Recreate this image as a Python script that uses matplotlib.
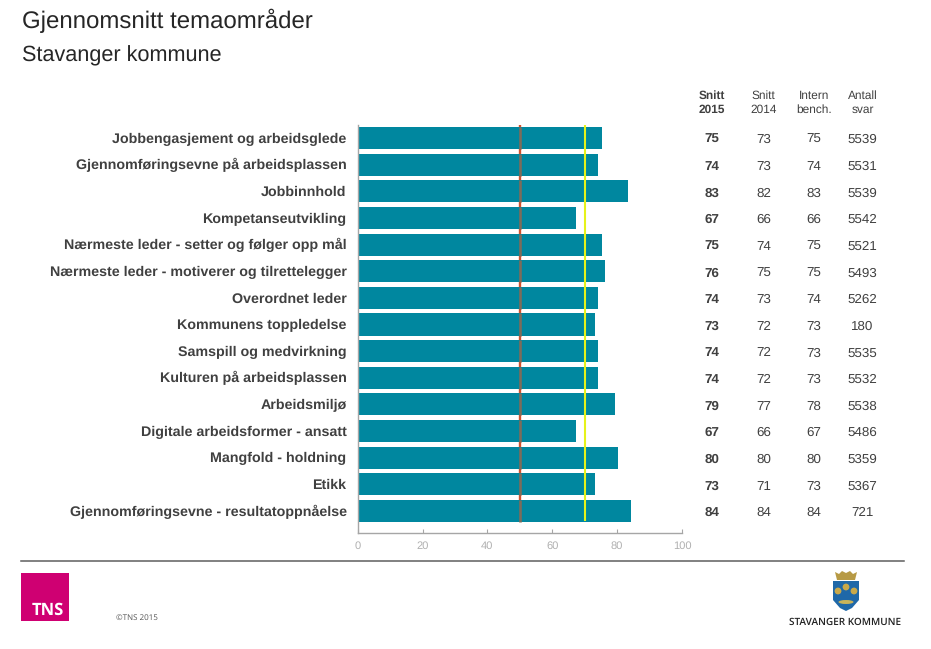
import matplotlib
matplotlib.use("Agg")
import matplotlib.pyplot as plt
from matplotlib.patches import Rectangle, Polygon, Circle, Ellipse
from matplotlib.transforms import ScaledTranslation

categories = ["Jobbengasjement og arbeidsglede", "Gjennomføringsevne på arbeidsplassen", "Jobbinnhold",
              "Kompetanseutvikling", "Nærmeste leder - setter og følger opp mål",
              "Nærmeste leder - motiverer og tilrettelegger", "Overordnet leder", "Kommunens toppledelse",
              "Samspill og medvirkning", "Kulturen på arbeidsplassen", "Arbeidsmiljø",
              "Digitale arbeidsformer - ansatt", "Mangfold - holdning", "Etikk",
              "Gjennomføringsevne - resultatoppnåelse"]
bar_values = [75.3, 74.1, 83.3, 67.3, 75.3, 76.2, 74.1, 73.1, 74.1, 74.1, 79.3, 67.3, 80.2, 73.1, 84.3]
snitt_2015 = [75, 74, 83, 67, 75, 76, 74, 73, 74, 74, 79, 67, 80, 73, 84]
snitt_2014 = [73, 73, 82, 66, 74, 75, 73, 72, 72, 72, 77, 66, 80, 71, 84]
intern_bench = [75, 74, 83, 66, 75, 75, 74, 73, 73, 73, 78, 67, 80, 73, 84]
antall_svar = [5539, 5531, 5539, 5542, 5521, 5493, 5262, 180, 5535, 5532, 5538, 5486, 5359, 5367, 721]
x_ticks = [0, 20, 40, 60, 80, 100]
ref_low = 50
ref_high = 70

W, H = 931, 649
plt.rcParams["font.family"] = ["Liberation Sans", "DejaVu Sans"]
plt.rcParams["text.hinting"] = "no_hinting"
plt.rcParams["text.hinting_factor"] = 8
fig = plt.figure(figsize=(W / 100, H / 100), dpi=100, facecolor="white")

# overlay in pixel coordinates
ov = fig.add_axes([0, 0, 1, 1])
ov.set_xlim(0, W)
ov.set_ylim(H, 0)
ov.axis("off")

# chart axes
left, right, top, bottom = 357.7, 682, 125, 533.3
ax = fig.add_axes([left / W, 1 - bottom / H, (right - left) / W, (bottom - top) / H])
ax.patch.set_alpha(0)
ax.set_xlim(0, 100)
ax.set_ylim(14.837, -0.488)
ypos = list(range(len(categories)))
ax.barh(ypos, bar_values, height=0.83, color="#00879f", zorder=2)
ax.vlines(ref_low, -0.49, 14.42, color="#d2502a", lw=1.7, zorder=1)
for y in ypos:
    ax.vlines(ref_low, y - 0.415, y + 0.415, color="#7d6c5a", lw=1.9, zorder=4)
ax.vlines(ref_high, -0.49, 14.38, color="#e6f21a", lw=1.5, zorder=5)
for s in ("top", "right"):
    ax.spines[s].set_visible(False)
for s in ("left", "bottom"):
    ax.spines[s].set_color("#a6a6a6")
    ax.spines[s].set_linewidth(1.0)
ax.set_yticks(ypos)
ax.set_yticklabels(categories, fontsize=10.3, fontweight="bold", color="#404040", va="baseline")
ax.tick_params(axis="y", length=0, pad=8)
shift = ScaledTranslation(0, -4.7 / 100, fig.dpi_scale_trans)
for lab in ax.get_yticklabels():
    lab.set_transform(lab.get_transform() + shift)
ax.set_xticks(x_ticks)
ax.tick_params(axis="x", direction="in", length=3, width=0.8, color="#a6a6a6",
               labelsize=8, labelcolor="#b0b0b0", pad=5.5)

# table columns
col_x = [712, 763.5, 814, 862.5]
headers = [("Snitt\n2015", "bold"), ("Snitt\n2014", "normal"), ("Intern\nbench.", "normal"), ("Antall\nsvar", "normal")]
columns = [snitt_2015, snitt_2014, intern_bench, antall_svar]
for cx, (h, w), col in zip(col_x, headers, columns):
    ov.text(cx, 102.5, h, ha="center", va="center", fontsize=8.6, fontweight=w,
            color="#404040", linespacing=1.3)
    for i, v in enumerate(col):
        ov.text(cx, 143.3 + i * 26.64, str(v), ha="center", va="baseline", fontsize=9.6,
                fontweight=w, color="#404040")

# titles
ov.text(22, 21, "Gjennomsnitt temaområder", fontsize=17.3, color="#262626", va="center", ha="left")
ov.text(22, 61, "Stavanger kommune", fontsize=15.6, color="#262626", va="baseline", ha="left")

# footer
ov.plot([21, 904], [561, 561], color="#5e5e5e", lw=1.1)
ov.add_patch(Rectangle((21, 573), 48, 48, color="#cf0072", lw=0))
ov.text(48, 610.5, "TNS", color="white", fontsize=12, fontweight="bold", ha="center", va="center",
        family=["Open Sans", "DejaVu Sans"])
ov.text(116, 618, "©TNS 2015", color="#555555", fontsize=5.8, va="center", ha="left",
        family=["Open Sans", "DejaVu Sans"])

# municipal crest
ov.add_patch(Polygon([(835, 572), (839, 574), (842, 571), (846, 573), (850, 571), (853, 574), (857, 572),
                      (855, 580), (837, 580)], closed=True, color="#b79a45", lw=0))
ov.add_patch(Polygon([(833, 581), (859, 581), (859, 600), (852, 608), (846, 611), (840, 608), (833, 600)],
                     closed=True, color="#1f68a8", lw=0))
for cx, cy in [(846, 587), (838, 591), (854, 591)]:
    ov.add_patch(Circle((cx, cy), 3.4, color="#c9a94a", lw=0))
ov.add_patch(Ellipse((846, 602), 15, 4, color="#c9b45a", lw=0))
ov.text(845.5, 622.5, "STAVANGER KOMMUNE", fontsize=7.2, fontweight="semibold", color="#222222",
        ha="center", va="center", family=["Open Sans", "DejaVu Sans"])

fig.savefig("out.png", dpi=100)
